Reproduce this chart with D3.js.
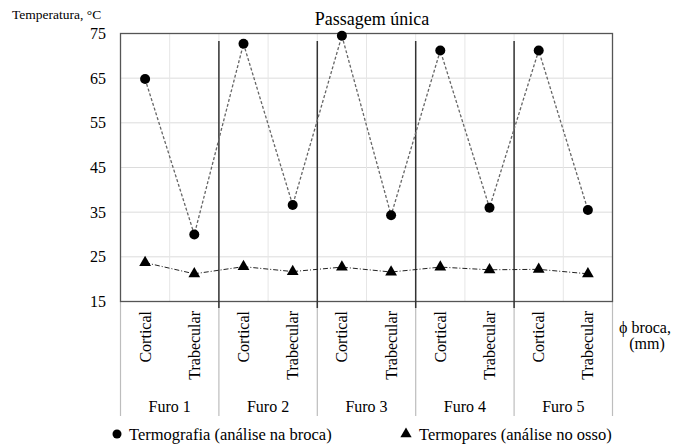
<!DOCTYPE html>
<html>
<head>
<meta charset="utf-8">
<script src="https://cdn.jsdelivr.net/npm/d3@7"></script>
<style>
  body { margin: 0; background: #fff; }
  svg text { font-family: "Liberation Serif", "Tinos", "Times New Roman", Times, "DejaVu Serif", serif; fill: #000; }
</style>
</head>
<body>
<svg id="chart" width="673" height="445"></svg>
<script>
const groups = ["Furo 1", "Furo 2", "Furo 3", "Furo 4", "Furo 5"];
const sites = ["Cortical", "Trabecular"];
const termografia = [64.8, 30.0, 72.7, 36.6, 74.5, 34.3, 71.2, 36.0, 71.2, 35.5];
const termopares = [23.7, 21.2, 22.8, 21.7, 22.7, 21.6, 22.7, 22.1, 22.2, 21.2];
const yTicks = [15, 25, 35, 45, 55, 65, 75];

const cats = groups.flatMap(g => sites.map(s => g + "|" + s));
const svg = d3.select("#chart");
const margin = { left: 120.5, right: 60.5, top: 33.5, bottom: 143.5 };
const width = 673, height = 445;

const x = d3.scaleBand().domain(cats).range([margin.left, width - margin.right]);
const xg = d3.scaleBand().domain(groups).range([margin.left, width - margin.right]);
const y = d3.scaleLinear().domain([15, 75]).range([height - margin.bottom, margin.top]);
const bottom = height - margin.bottom;

// horizontal grid
svg.append("g").selectAll("line").data(yTicks.slice(1, -1)).join("line")
    .attr("x1", margin.left).attr("x2", width - margin.right)
    .attr("y1", d => y(d)).attr("y2", d => y(d))
    .attr("stroke", "#dcdcdc").attr("stroke-width", 1);

// vertical light grid between categories
svg.append("g").selectAll("line").data(cats.slice(1)).join("line")
    .attr("x1", d => x(d)).attr("x2", d => x(d))
    .attr("y1", margin.top).attr("y2", bottom)
    .attr("stroke", "#e6e6e6").attr("stroke-width", 1);

// category axis tick lines (gray) below plot
svg.append("g").selectAll("line").data(groups.concat(["end"])).join("line")
    .attr("x1", d => d === "end" ? xg.range()[1] : xg(d))
    .attr("x2", d => d === "end" ? xg.range()[1] : xg(d))
    .attr("y1", bottom).attr("y2", 416)
    .attr("stroke", "#bdbdbd").attr("stroke-width", 1.2);

// plot border
svg.append("rect")
    .attr("x", margin.left).attr("y", margin.top)
    .attr("width", width - margin.left - margin.right)
    .attr("height", bottom - margin.top)
    .attr("fill", "none").attr("stroke", "#555").attr("stroke-width", 1.3);

// dark separators between furos
svg.append("g").selectAll("line").data(groups.slice(1)).join("line")
    .attr("x1", d => xg(d)).attr("x2", d => xg(d))
    .attr("y1", 41).attr("y2", 308)
    .attr("stroke", "#333").attr("stroke-width", 1.5);

// y axis labels
svg.append("g").selectAll("text").data(yTicks).join("text")
    .attr("x", 106).attr("y", d => y(d) + 5.5)
    .attr("text-anchor", "end").attr("font-size", 16)
    .text(d => d);

// rotated category labels
svg.append("g").selectAll("text").data(cats).join("text")
    .attr("transform", d => `translate(${x(d) + x.bandwidth() / 2 + 5.5},311) rotate(-90)`)
    .attr("text-anchor", "end").attr("font-size", 16)
    .text(d => d.split("|")[1]);

// group labels
svg.append("g").selectAll("text").data(groups).join("text")
    .attr("x", d => xg(d) + xg.bandwidth() / 2).attr("y", 412)
    .attr("text-anchor", "middle").attr("font-size", 16)
    .text(d => d);

const cx = (d, i) => x(cats[i]) + x.bandwidth() / 2;

// termografia series
svg.append("path").datum(termografia)
    .attr("fill", "none").attr("stroke", "#666").attr("stroke-width", 1.3)
    .attr("stroke-dasharray", "3,2")
    .attr("d", d3.line().x(cx).y(d => y(d)));
svg.append("g").selectAll("circle").data(termografia).join("circle")
    .attr("cx", cx).attr("cy", d => y(d)).attr("r", 5).attr("fill", "#000");

// termopares series
svg.append("path").datum(termopares)
    .attr("fill", "none").attr("stroke", "#222").attr("stroke-width", 1)
    .attr("stroke-dasharray", "5,2,1,2")
    .attr("d", d3.line().x(cx).y(d => y(d)));
const tri = d3.symbol().type(d3.symbolTriangle).size(60);
svg.append("g").selectAll("path").data(termopares).join("path")
    .attr("transform", (d, i) => `translate(${cx(d, i)},${y(d)})`)
    .attr("d", tri).attr("fill", "#000");

// titles
svg.append("text").attr("x", 372).attr("y", 25)
    .attr("text-anchor", "middle").attr("font-size", 18).text("Passagem única");
svg.append("text").attr("x", 12).attr("y", 19)
    .attr("font-size", 13.5).text("Temperatura, °C");
svg.append("text").attr("x", 645).attr("y", 333)
    .attr("text-anchor", "middle").attr("font-size", 16).text("ϕ broca,");
svg.append("text").attr("x", 647).attr("y", 349)
    .attr("text-anchor", "middle").attr("font-size", 16).text("(mm)");

// legend
svg.append("circle").attr("cx", 117).attr("cy", 434).attr("r", 4.5).attr("fill", "#000");
svg.append("text").attr("x", 129).attr("y", 440).attr("font-size", 16.5)
    .text("Termografia (análise na broca)");
svg.append("path").attr("transform", "translate(406,434)")
    .attr("d", d3.symbol().type(d3.symbolTriangle).size(55)).attr("fill", "#000");
svg.append("text").attr("x", 419).attr("y", 440).attr("font-size", 16.5)
    .text("Termopares (análise no osso)");
</script>
</body>
</html>
